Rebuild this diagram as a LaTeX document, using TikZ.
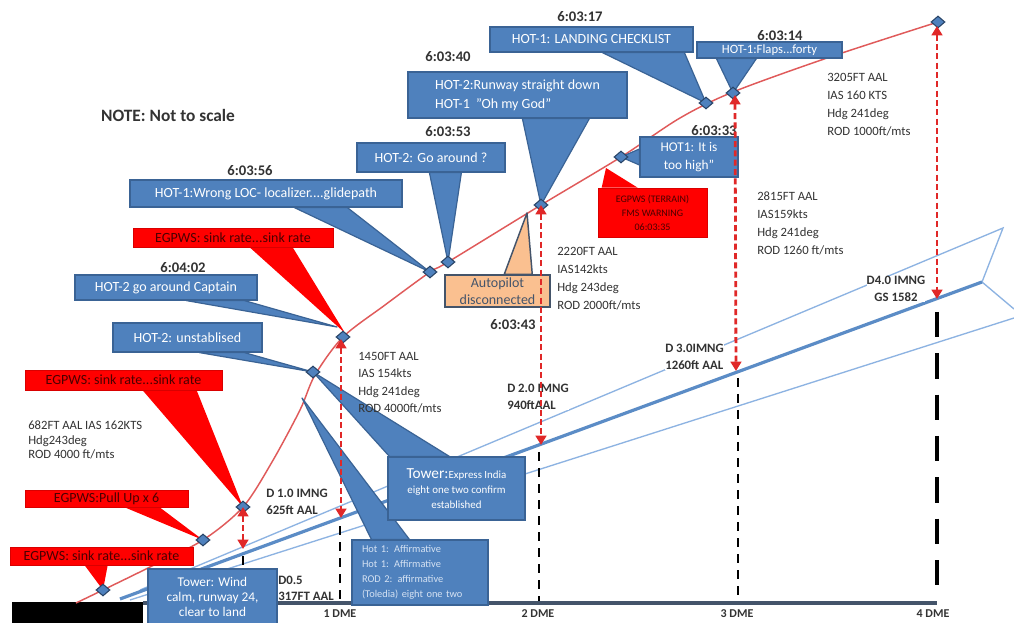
\documentclass[tikz,border=0pt]{standalone}
\usepackage{fontspec}
\setmainfont{Carlito}
\usetikzlibrary{shapes.geometric,arrows.meta,calc,backgrounds}
\definecolor{cblue}{HTML}{4F81BD}
\definecolor{cblueD}{HTML}{3A6395}
\definecolor{cred}{HTML}{FF0000}
\definecolor{credtxt}{HTML}{4A0000}
\definecolor{cpeach}{HTML}{FAC090}
\definecolor{caxis}{HTML}{44546A}
\definecolor{ctxt}{HTML}{333333}
\definecolor{cglide}{HTML}{8DB3E2}
\definecolor{cglideT}{HTML}{5B8CC6}
\definecolor{ccurve}{HTML}{E05A5A}
\definecolor{carrow}{HTML}{E02828}
\definecolor{cpale}{HTML}{D5E2F3}
\tikzset{
 bbox/.style={fill=cblue,draw=cblueD,line width=0.9pt,text=white,inner sep=0pt,align=center,font=\fontsize{10.5}{13}\selectfont},
 rbox/.style={fill=cred,draw=cred!85!black,line width=0.5pt,text=credtxt,inner sep=0pt,align=center,font=\fontsize{10.5}{12}\selectfont},
 apbox/.style={fill=cpeach,draw=caxis,line width=1.1pt,text=caxis,inner sep=0pt,align=center,font=\fontsize{10.5}{12.5}\selectfont},
 sz/.style 2 args={minimum width=#1*0.75pt,minimum height=#2*0.75pt},
 btail/.style={fill=cblue,draw=cblueD,line width=0.9pt,line join=round},
 rtail/.style={fill=cred},
 aptail/.style={fill=cpeach,draw=caxis,line width=1.1pt,line join=round},
 dia/.style={diamond,fill=cblue,draw=cblueD!70!black,line width=0.8pt,minimum width=10.5pt,minimum height=9pt,inner sep=0pt},
 rarr/.style={draw=carrow,line width=2.1pt,dash pattern=on 4.5pt off 2.5pt,{Triangle[width=8pt,length=7pt]}-{Triangle[width=8pt,length=7pt]}},
 dmel/.style={draw=black,line width=2.2pt,dash pattern=on 7pt off 5pt},
 dmelong/.style={draw=black,line width=3pt,dash pattern=on 19pt off 12pt},
 dat/.style={text=ctxt,inner sep=0pt,anchor=north west,align=left,font=\fontsize{9.5}{13.5}\selectfont},
 dlab/.style={text=ctxt,inner sep=0pt,anchor=north west,align=left,font=\bfseries\fontsize{9.6}{12.75}\selectfont},
 tstamp/.style={text=ctxt,inner sep=0pt,font=\bfseries\fontsize{11}{12}\selectfont},
 glide/.style={draw=cglide,line width=1pt},
 glidethick/.style={draw=cglideT,line width=2.4pt},
 dmetxt/.style={text=ctxt,inner sep=0pt,font=\bfseries\fontsize{9}{10}\selectfont},
}
\begin{document}
\begin{tikzpicture}[x=0.75pt,y=-0.75pt]
\useasboundingbox (0,0) rectangle (1014,623);

% ---------- coordinates ----------
\coordinate (gu1) at (140,590);  \coordinate (gu2) at (1003,228);
\coordinate (gt1) at (120,599);  \coordinate (gt2) at (982,282);
\coordinate (gl1) at (130,600);  \coordinate (gl2) at (1014,318);
\coordinate (gc2) at (1014,309);
\coordinate (ax1) at (143,603);  \coordinate (ax2) at (937,603);
\coordinate (m0t) at (243,556);  \coordinate (m0b) at (243,600);
\coordinate (m1t) at (340,526);  \coordinate (m1b) at (340,601);
\coordinate (m2t) at (539,452);  \coordinate (m2b) at (539,601);
\coordinate (m3t) at (738,378);  \coordinate (m3b) at (738,601);
\coordinate (m4t) at (937,312);  \coordinate (m4b) at (937,598);
\coordinate (e3) at (243,549);
\coordinate (e5) at (341,518);
\coordinate (e8) at (541,445);
\coordinate (e11) at (736,371);
\coordinate (e12) at (937,299);

% ---------- background lines ----------
\begin{scope}[on background layer]
\fill[white] (0,0) rectangle (1014,623);
\draw[glide] (gu1) -- (gu2) -- (gt2) -- (gc2);
\draw[glide] (gl1) -- (gl2);
\draw[glidethick] (gt1) -- (gt2);
\draw[dmel] (m0t) -- (m0b);
\draw[dmel] (m1t) -- (m1b);
\draw[dmel] (m2t) -- (m2b);
\draw[dmel] (m3t) -- (m3b);
\draw[dmelong] (m4t) -- (m4b);
\draw[draw=caxis,line width=3.6pt] (ax1) -- (ax2);
\fill[black] (12,602) rectangle (143,623);
\draw[ccurve,line width=1.1pt] plot[smooth,tension=0.5] coordinates {(76,603) (103,590) (150,567) (203,540) (243,507) (272,462) (300,410) (315,375) (343,337) (385,305) (430,272) (448,262) (541,205) (621,157) (680,118) (733,92) (830,57) (938,22)};
\end{scope}

% ---------- diamonds ----------
\node[dia] (d1) at (103,590) {};
\node[dia] (d2) at (203,540) {};
\node[dia] (d3) at (243,507) {};
\node[dia] (d4) at (313,372) {};
\node[dia] (d5) at (343,337) {};
\node[dia] (d6) at (430,272) {};
\node[dia] (d7) at (448,262) {};
\node[dia] (d8) at (541,205) {};
\node[dia] (d9) at (621,157) {};
\node[dia] (d10) at (706,103) {};
\node[dia] (d11) at (733,93) {};
\node[dia] (d12) at (938,22) {};

% ---------- callouts ----------
\node[bbox,sz={272}{27}] (c1) at (266,193.5) {HOT-1:Wrong LOC- localizer....glidepath};
\node[bbox,sz={148}{29}] (c2) at (431,157.5) {HOT-2: Go around ?};
\node[bbox,sz={219}{46},align=left,font=\fontsize{10.5}{14}\selectfont] (c3) at (517.5,95) {HOT-2:Runway straight down\\HOT-1 \ "Oh my God"};
\node[bbox,sz={203}{25}] (c4) at (591.5,39.5) {HOT-1: LANDING CHECKLIST};
\node[bbox,sz={145}{16},font=\fontsize{9.5}{11}\selectfont] (c5) at (769.5,50) {HOT-1:Flaps...forty};
\node[bbox,sz={98}{40},font=\fontsize{10}{13}\selectfont] (c6) at (689,157) {HOT1: It is\\too high"};
\node[bbox,sz={182}{25}] (c7) at (166,287.5) {HOT-2 go around Captain};
\node[bbox,sz={149}{29}] (c8) at (187.5,337.5) {HOT-2: unstablised};
\node[rbox,sz={200}{19}] (r1) at (233,237.5) {EGPWS: sink rate...sink rate};
\node[rbox,sz={197}{20}] (r2) at (123.5,380) {EGPWS: sink rate...sink rate};
\node[rbox,sz={163}{17}] (r3) at (106.5,498.5) {EGPWS:Pull Up x 6};
\node[rbox,sz={183}{18}] (r4) at (101.5,556) {EGPWS: sink rate...sink rate};
\node[rbox,sz={109}{49},font=\fontsize{7.5}{10.5}\selectfont] (r5) at (652.5,212.5) {EGPWS (TERRAIN)\\FMS WARNING\\06:03:35};
\node[apbox,sz={105}{32}] (ap) at (497.5,291) {Autopilot\\disconnected};
\node[bbox,sz={137}{63},font=\fontsize{8.2}{11.5}\selectfont] (tw1) at (456.5,488.5) {{\fontsize{11.5}{12}\selectfont Tower:}Express India\\eight one two confirm\\established};
\node[bbox,sz={136}{65},align=left,text width=87pt,text=cpale,font=\fontsize{7.8}{11.25}\selectfont] (h1) at (420,572.5) {Hot 1: Affirmative\\Hot 1: Affirmative\\ROD 2: affirmative\\(Toledia) eight one two};
\node[bbox,sz={129}{56},font=\fontsize{10}{11.5}\selectfont] (tw2) at (212.5,597) {Tower: Wind\\calm, runway 24,\\clear to land};

% ---------- tails ----------
\begin{scope}[on background layer]
\path[btail] ($(c1.south west)+(165,0)$) -- ($(c1.south west)+(218,0)$) -- (d6.center) -- cycle;
\path[btail] ($(c2.south west)+(73,0)$) -- ($(c2.south west)+(105,0)$) -- (d7.center) -- cycle;
\path[btail] ($(c3.south west)+(115,0)$) -- ($(c3.south west)+(182,0)$) -- (d8.center) -- cycle;
\path[btail] ($(c4.south west)+(113,0)$) -- ($(c4.south west)+(195,0)$) -- (d10.center) -- cycle;
\path[btail] ($(c5.south west)+(20,0)$) -- ($(c5.south west)+(60,0)$) -- (d11.center) -- cycle;
\path[btail] ($(c6.west)+(0,-8)$) -- ($(c6.west)+(0,8)$) -- (d9.center) -- cycle;
\path[btail] ($(c7.south west)+(112,0)$) -- ($(c7.south west)+(170,0)$) -- ($(d5.center)+(-6,-10)$) -- cycle;
\path[btail] ($(c8.south west)+(87,0)$) -- ($(c8.south west)+(132,0)$) -- (d4.center) -- cycle;
\path[btail] ($(tw1.north west)+(2,0)$) -- ($(tw1.north west)+(62,0)$) -- (d4.center) -- cycle;
\path[btail] ($(h1.north west)+(20,0)$) -- ($(h1.north west)+(58,0)$) -- (302,398) -- cycle;
\path[rtail] ($(r1.south west)+(117,0)$) -- ($(r1.south west)+(160,0)$) -- ($(d5.center)+(2,-4)$) -- cycle;
\path[rtail] ($(r2.south west)+(118,0)$) -- ($(r2.south west)+(172,0)$) -- (d3.center) -- cycle;
\path[rtail] ($(r3.south west)+(100,0)$) -- ($(r3.south west)+(135,0)$) -- (d2.center) -- cycle;
\path[rtail] ($(r4.south west)+(75,0)$) -- ($(r4.south west)+(98,0)$) -- (d1.center) -- cycle;
\path[rtail] ($(r5.north west)+(4,0)$) -- ($(r5.north west)+(40,0)$) -- (606,168) -- cycle;
\path[aptail] ($(ap.north west)+(60,0)$) -- ($(ap.north west)+(88,0)$) -- (527,213) -- cycle;
\end{scope}

% ---------- timestamps ----------
\node[tstamp] (t1) at (250,171) {6:03:56};
\node[tstamp] (t2) at (448,132) {6:03:53};
\node[tstamp] (t3) at (448,57) {6:03:40};
\node[tstamp] (t4) at (580,17) {6:03:17};
\node[tstamp] (t5) at (780,36) {6:03:14};
\node[tstamp] (t6) at (714,131) {6:03:33};
\node[tstamp] (t7) at (183,268) {6:04:02};
\node[tstamp] (t8) at (513,325) {6:03:43};

% ---------- texts ----------
\node[text=ctxt,inner sep=0pt,font=\bfseries\fontsize{13}{15}\selectfont] (note) at (168,115) {NOTE: Not to scale};
\node[dat,font=\fontsize{9.5}{10.9}\selectfont] (a1) at (28,421) {682FT AAL IAS 162KTS\\Hdg243deg\\ROD 4000 ft/mts};
\node[dat,font=\fontsize{9.5}{13.1}\selectfont] (a2) at (358,352) {1450FT AAL\\IAS 154kts\\Hdg 241deg\\ROD 4000ft/mts};
\node[dat] (a3) at (557,247) {2220FT AAL\\IAS142kts\\Hdg 243deg\\ROD 2000ft/mts};
\node[dat] (a4) at (757,192) {2815FT AAL\\IAS159kts\\Hdg 241deg\\ROD 1260 ft/mts};
\node[dat] (a5) at (827,73) {3205FT AAL\\IAS 160 KTS\\Hdg 241deg\\ROD 1000ft/mts};
\node[dlab] (l1) at (266,489) {D 1.0 IMNG\\625ft AAL};
\node[dlab,font=\bfseries\fontsize{9.6}{12}\selectfont] (l05) at (278,576) {D0.5\\317FT AAL};
\node[dlab,fill=white] (l2) at (507,384) {D 2.0 IMNG\\940ftAAL};
\node[dlab,fill=white] (l3) at (665,344) {D 3.0IMNG\\1260ft AAL};
\node[dlab,fill=white,anchor=north,align=center] (l4) at (896,276) {D4.0 IMNG\\GS 1582};
\node[dmetxt] (k1) at (340,614) {1 DME};
\node[dmetxt] (k2) at (538,614) {2 DME};
\node[dmetxt] (k3) at (737,614) {3 DME};
\node[dmetxt] (k4) at (933,614) {4 DME};

% ---------- red measurement arrows ----------
\draw[rarr] (d3.center) -- (e3);
\draw[rarr] (341,339) -- (e5);
\draw[rarr] (d8.center) -- (e8);
\draw[rarr] (735,95) -- (e11);
\draw[rarr] (937,26) -- (e12);
\end{tikzpicture}
\end{document}
